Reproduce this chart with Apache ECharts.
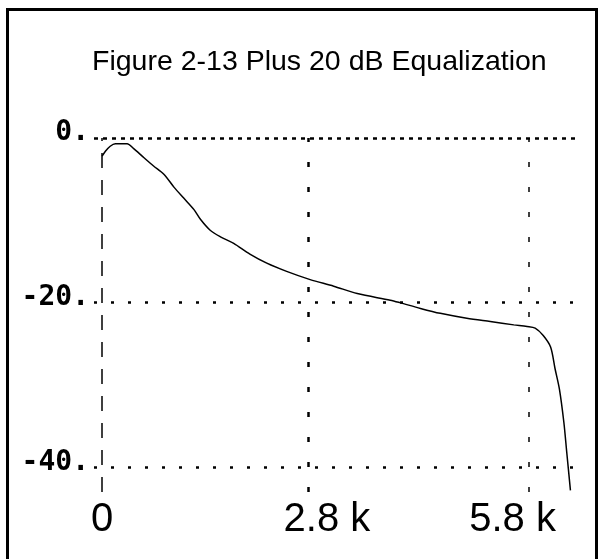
<!DOCTYPE html>
<html>
<head>
<meta charset="utf-8">
<script src="https://cdn.jsdelivr.net/npm/echarts@6/dist/echarts.min.js"></script>
<style>
html,body{margin:0;padding:0;background:#fff;}
#chart{width:599px;height:559px;}
</style>
</head>
<body>
<div id="chart"></div>
<script>
// Frequency (kHz) and response (dB)
const freqK = [0, 0.045, 0.11, 0.18, 0.34, 0.43, 0.57, 0.70, 0.84, 0.98, 1.11, 1.25, 1.34, 1.47, 1.61, 1.79, 2.01, 2.24, 2.51, 2.83, 3.15, 3.47, 3.92, 4.05, 4.33, 4.60, 4.96, 5.28, 5.60, 5.78, 5.89, 6.00, 6.10, 6.16, 6.22, 6.28, 6.32, 6.37];
const responseDb = [-2.2, -1.6, -1.0, -0.7, -0.7, -1.3, -2.4, -3.4, -4.4, -6.0, -7.3, -8.7, -9.9, -11.2, -12.0, -12.8, -14.1, -15.2, -16.2, -17.2, -18.0, -18.9, -19.7, -20.0, -20.7, -21.3, -21.9, -22.3, -22.7, -22.9, -23.1, -24.0, -25.4, -28.0, -30.5, -34.5, -38.2, -42.8];

const xTickValues = [0, 2.8, 5.8];
const xTickLabels = ['0', '2.8 k', '5.8 k'];
const yTickValues = [0, -20, -40];
const yTickLabels = ['0.', '-20.', '-40.'];
const titleText = 'Figure 2-13 Plus 20 dB Equalization';

const chart = echarts.init(document.getElementById('chart'), null, {renderer: 'canvas'});

const vStyles = [
  {color: '#000', width: 1.5, type: [15, 12]},
  {color: '#000', width: 2.5, type: [5, 20]},
  {color: '#000', width: 1.5, type: [5, 20]}
];
const hStyles = [
  {color: '#000', width: 2.5, type: [4, 5]},
  {color: '#000', width: 2.5, type: [3, 14]},
  {color: '#000', width: 2.5, type: [3, 14]}
];

const markData = [];
xTickValues.forEach((v, i) => markData.push({xAxis: v, lineStyle: vStyles[i]}));
yTickValues.forEach((v, i) => markData.push({yAxis: v, lineStyle: hStyles[i]}));

const labelFont = 'Liberation Sans, Arial, sans-serif';

const option = {
  animation: false,
  backgroundColor: '#fff',
  title: {
    text: titleText,
    left: 87,
    top: 43,
    textStyle: {fontFamily: labelFont, fontSize: 28.5, fontWeight: 'normal', color: '#000'}
  },
  grid: {left: 94, right: 19, top: 138, bottom: 67, containLabel: false},
  xAxis: {
    type: 'value',
    min: -0.11,
    max: 6.5,
    axisLine: {show: false},
    axisTick: {show: false},
    splitLine: {show: false},
    axisLabel: {
      customValues: xTickValues,
      margin: 8,
      color: '#000',
      fontFamily: labelFont,
      fontSize: 40,
      formatter: function (v) {
        const i = xTickValues.indexOf(v);
        const t = i >= 0 ? xTickLabels[i] : '';
        if (i === 1) return '{m|' + t + '}';
        if (i === 2) return '{s|' + t + '}';
        return t;
      },
      rich: {
        m: {fontFamily: labelFont, fontSize: 40, color: '#000', padding: [0, 0, 0, 38]},
        s: {fontFamily: labelFont, fontSize: 40, color: '#000', padding: [0, 32, 0, 0]}
      }
    }
  },
  yAxis: {
    type: 'value',
    min: -43,
    max: 0,
    axisLine: {show: false},
    axisTick: {show: false},
    splitLine: {show: false},
    axisLabel: {
      customValues: yTickValues,
      margin: 5,
      color: '#000',
      fontFamily: 'DejaVu Sans Mono, monospace',
      fontWeight: 'bold',
      fontSize: 28,
      verticalAlign: 'bottom',
      lineHeight: 10,
      formatter: function (v) {
        const i = yTickValues.indexOf(v);
        return i >= 0 ? yTickLabels[i] : '';
      }
    }
  },
  graphic: [
    {type: 'rect', shape: {x: 7.5, y: 9.5, width: 589, height: 600}, style: {fill: 'none', stroke: '#000', lineWidth: 3}, silent: true}
  ],
  series: [{
    type: 'line',
    data: freqK.map((f, i) => [f, responseDb[i]]),
    showSymbol: false,
    smooth: 0.3,
    lineStyle: {color: '#000', width: 1.5},
    markLine: {
      silent: true,
      symbol: 'none',
      label: {show: false},
      data: markData
    }
  }]
};
chart.setOption(option);
</script>
</body>
</html>
